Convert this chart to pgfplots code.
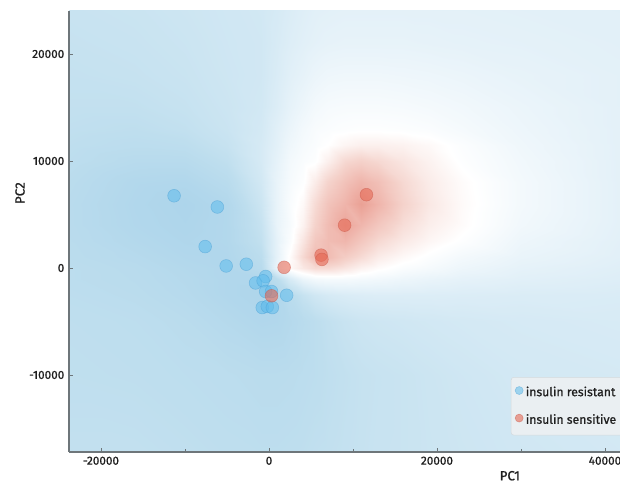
\documentclass[border=0pt]{standalone}
\usepackage{fontspec}
\setmainfont{Fira Sans}
\newfontfamily\lbl{Fira Sans}[FakeBold=0.9]
\usepackage{pgfplots}
\pgfplotsset{compat=1.18}
\definecolor{axgray}{RGB}{110,118,122}
\definecolor{bluept}{RGB}{95,188,236}
\definecolor{bluedraw}{RGB}{75,160,212}
\definecolor{redpt}{RGB}{230,105,85}
\definecolor{reddraw}{RGB}{200,85,70}
\definecolor{txt}{RGB}{30,30,30}
\definecolor{legfill}{RGB}{234,239,242}
\definecolor{legdraw}{RGB}{212,218,222}
\pgfplotstableread{
x y v
-24000 -18000 -0.62
-16000 -18000 -0.62
-10000 -18000 -0.64
-5000 -18000 -0.66
-1000 -18000 -0.67
1000 -18000 -0.67
2500 -18000 -0.66
4000 -18000 -0.65
5500 -18000 -0.63
7000 -18000 -0.62
9000 -18000 -0.60
11000 -18000 -0.58
13000 -18000 -0.56
16000 -18000 -0.55
19000 -18000 -0.53
23000 -18000 -0.51
30000 -18000 -0.48
42000 -18000 -0.45
-24000 -10000 -0.65
-16000 -10000 -0.66
-10000 -10000 -0.68
-5000 -10000 -0.70
-1000 -10000 -0.73
1000 -10000 -0.73
2500 -10000 -0.72
4000 -10000 -0.70
5500 -10000 -0.68
7000 -10000 -0.65
9000 -10000 -0.62
11000 -10000 -0.59
13000 -10000 -0.57
16000 -10000 -0.55
19000 -10000 -0.52
23000 -10000 -0.49
30000 -10000 -0.45
42000 -10000 -0.43
-24000 -5000 -0.66
-16000 -5000 -0.68
-10000 -5000 -0.73
-5000 -5000 -0.80
-1000 -5000 -0.86
1000 -5000 -0.85
2500 -5000 -0.80
4000 -5000 -0.74
5500 -5000 -0.68
7000 -5000 -0.62
9000 -5000 -0.56
11000 -5000 -0.52
13000 -5000 -0.50
16000 -5000 -0.48
19000 -5000 -0.46
23000 -5000 -0.44
30000 -5000 -0.42
42000 -5000 -0.40
-24000 -2500 -0.68
-16000 -2500 -0.72
-10000 -2500 -0.78
-5000 -2500 -0.86
-1000 -2500 -0.90
1000 -2500 -0.86
2500 -2500 -0.72
4000 -2500 -0.58
5500 -2500 -0.48
7000 -2500 -0.42
9000 -2500 -0.38
11000 -2500 -0.36
13000 -2500 -0.35
16000 -2500 -0.35
19000 -2500 -0.35
23000 -2500 -0.36
30000 -2500 -0.37
42000 -2500 -0.38
-24000 -1000 -0.70
-16000 -1000 -0.74
-10000 -1000 -0.80
-5000 -1000 -0.86
-1000 -1000 -0.86
1000 -1000 -0.70
2500 -1000 -0.40
4000 -1000 -0.20
5500 -1000 -0.12
7000 -1000 -0.10
9000 -1000 -0.10
11000 -1000 -0.12
13000 -1000 -0.14
16000 -1000 -0.18
19000 -1000 -0.22
23000 -1000 -0.26
30000 -1000 -0.30
42000 -1000 -0.34
-24000 0 -0.70
-16000 0 -0.75
-10000 0 -0.82
-5000 0 -0.86
-1000 0 -0.75
1000 0 -0.20
2500 0 0.05
4000 0 0.18
5500 0 0.28
7000 0 0.28
9000 0 0.20
11000 0 0.10
13000 0 0.03
16000 0 -0.05
19000 0 -0.10
23000 0 -0.18
30000 0 -0.26
42000 0 -0.32
-24000 1000 -0.72
-16000 1000 -0.78
-10000 1000 -0.85
-5000 1000 -0.86
-1000 1000 -0.70
1000 1000 -0.25
2500 1000 0.03
4000 1000 0.30
5500 1000 0.55
7000 1000 0.55
9000 1000 0.40
11000 1000 0.28
13000 1000 0.15
16000 1000 0.05
19000 1000 -0.03
23000 1000 -0.12
30000 1000 -0.22
42000 1000 -0.30
-24000 2500 -0.73
-16000 2500 -0.82
-10000 2500 -0.88
-5000 2500 -0.84
-1000 2500 -0.62
1000 2500 -0.25
2500 2500 -0.05
4000 2500 0.20
5500 2500 0.45
7000 2500 0.55
9000 2500 0.60
11000 2500 0.45
13000 2500 0.30
16000 2500 0.17
19000 2500 0.07
23000 2500 -0.02
30000 2500 -0.18
42000 2500 -0.29
-24000 4000 -0.74
-16000 4000 -0.85
-10000 4000 -0.90
-5000 4000 -0.84
-1000 4000 -0.58
1000 4000 -0.22
2500 4000 -0.08
4000 4000 0.10
5500 4000 0.35
7000 4000 0.55
9000 4000 0.75
11000 4000 0.60
13000 4000 0.45
16000 4000 0.26
19000 4000 0.13
23000 4000 0.03
30000 4000 -0.14
42000 4000 -0.28
-24000 6000 -0.74
-16000 6000 -0.86
-10000 6000 -0.92
-5000 6000 -0.84
-1000 6000 -0.52
1000 6000 -0.22
2500 6000 -0.06
4000 6000 0.05
5500 6000 0.28
7000 6000 0.48
9000 6000 0.62
11000 6000 0.80
13000 6000 0.62
16000 6000 0.35
19000 6000 0.18
23000 6000 0.04
30000 6000 -0.12
42000 6000 -0.28
-24000 8000 -0.72
-16000 8000 -0.84
-10000 8000 -0.86
-5000 8000 -0.74
-1000 8000 -0.46
1000 8000 -0.22
2500 8000 -0.09
4000 8000 -0.02
5500 8000 0.15
7000 8000 0.34
9000 8000 0.50
11000 8000 0.62
13000 8000 0.52
16000 8000 0.30
19000 8000 0.15
23000 8000 0.03
30000 8000 -0.12
42000 8000 -0.28
-24000 10000 -0.68
-16000 10000 -0.76
-10000 10000 -0.76
-5000 10000 -0.64
-1000 10000 -0.42
1000 10000 -0.25
2500 10000 -0.12
4000 10000 -0.06
5500 10000 -0.02
7000 10000 0.12
9000 10000 0.30
11000 10000 0.36
13000 10000 0.30
16000 10000 0.20
19000 10000 0.10
23000 10000 -0.02
30000 10000 -0.14
42000 10000 -0.28
-24000 11500 -0.66
-16000 11500 -0.70
-10000 11500 -0.68
-5000 11500 -0.58
-1000 11500 -0.42
1000 11500 -0.28
2500 11500 -0.16
4000 11500 -0.09
5500 11500 -0.05
7000 11500 0.00
9000 11500 0.08
11000 11500 0.12
13000 11500 0.12
16000 11500 0.10
19000 11500 0.05
23000 11500 -0.04
30000 11500 -0.16
42000 11500 -0.28
-24000 13000 -0.64
-16000 13000 -0.66
-10000 13000 -0.62
-5000 13000 -0.54
-1000 13000 -0.44
1000 13000 -0.30
2500 13000 -0.20
4000 13000 -0.12
5500 13000 -0.07
7000 13000 -0.05
9000 13000 -0.03
11000 13000 -0.02
13000 13000 -0.02
16000 13000 -0.03
19000 13000 -0.05
23000 13000 -0.10
30000 13000 -0.18
42000 13000 -0.28
-24000 15000 -0.62
-16000 15000 -0.62
-10000 15000 -0.58
-5000 15000 -0.52
-1000 15000 -0.46
1000 15000 -0.35
2500 15000 -0.25
4000 15000 -0.18
5500 15000 -0.12
7000 15000 -0.09
9000 15000 -0.08
11000 15000 -0.08
13000 15000 -0.08
16000 15000 -0.09
19000 15000 -0.11
23000 15000 -0.14
30000 15000 -0.20
42000 15000 -0.28
-24000 18000 -0.60
-16000 18000 -0.58
-10000 18000 -0.55
-5000 18000 -0.50
-1000 18000 -0.47
1000 18000 -0.38
2500 18000 -0.30
4000 18000 -0.25
5500 18000 -0.20
7000 18000 -0.17
9000 18000 -0.16
11000 18000 -0.16
13000 18000 -0.16
16000 18000 -0.17
19000 18000 -0.18
23000 18000 -0.20
30000 18000 -0.24
42000 18000 -0.28
-24000 21000 -0.58
-16000 21000 -0.56
-10000 21000 -0.53
-5000 21000 -0.49
-1000 21000 -0.47
1000 21000 -0.40
2500 21000 -0.34
4000 21000 -0.30
5500 21000 -0.27
7000 21000 -0.25
9000 21000 -0.24
11000 21000 -0.24
13000 21000 -0.24
16000 21000 -0.24
19000 21000 -0.25
23000 21000 -0.26
30000 21000 -0.27
42000 21000 -0.29
-24000 24500 -0.56
-16000 24500 -0.54
-10000 24500 -0.51
-5000 24500 -0.48
-1000 24500 -0.46
1000 24500 -0.42
2500 24500 -0.37
4000 24500 -0.33
5500 24500 -0.30
7000 24500 -0.29
9000 24500 -0.28
11000 24500 -0.28
13000 24500 -0.28
16000 24500 -0.28
19000 24500 -0.28
23000 24500 -0.28
30000 24500 -0.29
42000 24500 -0.30
}\field
\pgfplotstableread{
x y
-11300 6750
-6150 5700
-7600 2000
-5100 190
-2700 350
-400 -800
-1600 -1400
-700 -1200
-400 -2200
300 -2200
2100 -2550
-800 -3700
-200 -3600
400 -3700
}\resistant
\pgfplotstableread{
x y
1800 60
300 -2600
6200 1200
6300 800
9000 4000
11600 6850
}\sensitive
\begin{document}
\begin{tikzpicture}
\begin{axis}[
  scale only axis, width=413.25pt, height=330.75pt,
  xmin=-23810, xmax=41786, ymin=-17200, ymax=24020,
  axis on top,
  axis x line*=bottom, axis y line*=left,
  axis line style={axgray, line width=0.8pt},
  xtick={-20000,0,20000,40000}, minor xtick={-10000,10000,30000},
  ytick={-10000,0,10000,20000},
  tick align=inside, major tick length=3pt, minor tick length=2pt,
  tick style={axgray, line width=0.6pt},
  scaled ticks=false,
  /pgf/number format/assume math mode=true,
  /pgf/number format/set thousands separator={},
  ticklabel style={font=\lbl\fontsize{8.8}{10}\selectfont, text=txt},
  xlabel=PC1, ylabel=PC2,
  every axis x label/.style={at={(rel axis cs:0.8,0)}, anchor=center, yshift=-17.8pt, font=\lbl\fontsize{10}{12}\selectfont, text=txt},
  every axis y label/.style={at={(rel axis cs:0,0.587)}, anchor=center, xshift=-36.75pt, rotate=90, font=\lbl\fontsize{10}{12}\selectfont, text=txt},
  colormap={pca}{rgb255=(168,210,234) rgb255=(190,222,238) rgb255=(222,238,247) rgb255=(255,255,255) rgb255=(245,212,205) rgb255=(238,175,165) rgb255=(228,140,125)},
  point meta min=-1, point meta max=1,
  legend style={at={(rel axis cs:0.802,0.17)}, anchor=north west, fill=legfill, draw=legdraw, rounded corners=2pt, font=\lbl\fontsize{9.2}{11}\selectfont, text=txt, row sep=8pt, inner xsep=3pt, inner ysep=5pt},
  legend cell align=left,
  legend image code/.code={\draw[#1, mark size=3pt] plot coordinates {(0.08cm,0.05cm)};},
]
\addplot[surf, shader=interp, mesh/cols=18, point meta=explicit, forget plot] table[x=x, y=y, meta=v] {\field};
\addplot[only marks, mark=*, mark size=4.8pt, mark options={fill=bluept, draw=bluedraw, fill opacity=0.55, draw opacity=0.5, line width=0.4pt}] table {\resistant};
\addlegendentry{insulin resistant}
\addplot[only marks, mark=*, mark size=4.8pt, mark options={fill=redpt, draw=reddraw, fill opacity=0.6, draw opacity=0.5, line width=0.4pt}] table {\sensitive};
\addlegendentry{insulin sensitive}
\end{axis}
\pgfresetboundingbox
\path (-51.75pt,-24pt) rectangle (413.25pt,339pt);
\end{tikzpicture}
\end{document}
